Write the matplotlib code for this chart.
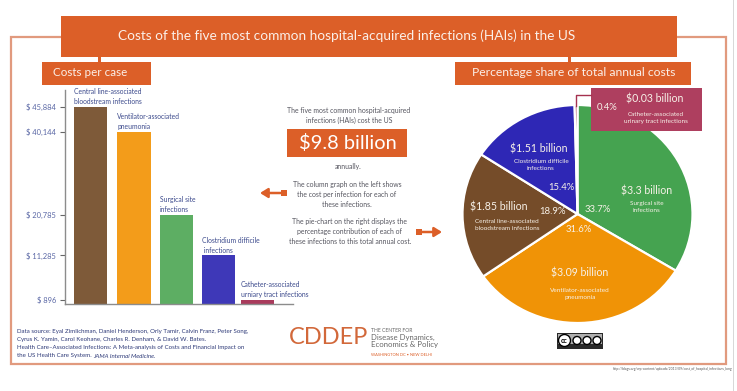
import matplotlib
matplotlib.use("Agg")
import matplotlib.pyplot as plt
from matplotlib.patches import Rectangle

plt.rcParams['font.family'] = ['Lato', 'DejaVu Sans']

# ---- data ----
bar_names = ["Central line-associated\nbloodstream infections", "Ventilator-associated\npneumonia",
             "Surgical site\ninfections", "Clostridium difficile\n infections",
             "Catheter-associated\nurniary tract infections"]
bar_costs = [45884, 40144, 20785, 11285, 896]
bar_ticklabels = ["$ 45,884", "$ 40,144", "$ 20,785", "$ 11,285", "$ 896"]
bar_centers = [90.7, 134.2, 176.7, 218.5, 257.7]
bar_colors = ["#7E5A39", "#F39C1A", "#5DAE63", "#3E38B8", "#A93B5C"]

pie_pct = [33.7, 31.6, 18.9, 15.4, 0.4]
pie_colors = ["#45A350", "#F09306", "#754C29", "#2E27B5", "#A5324F"]

ORANGE = "#DC5F28"
BORDER = "#E19A7E"
W, H = 737, 391

fig = plt.figure(figsize=(W / 100, H / 100), dpi=100, facecolor="white")

bg = fig.add_axes([0, 0, 1, 1], zorder=0)
bg.set_xlim(0, W); bg.set_ylim(H, 0); bg.axis("off")

def box(x0, y0, x1, y1, color, **kw):
    bg.add_patch(Rectangle((x0, y0), x1 - x0, y1 - y0, facecolor=color, edgecolor="none", **kw))

# frame and right page edge
bg.add_patch(Rectangle((11, 36.5), 715, 327.5, fill=False, edgecolor=BORDER, lw=1.6))
box(733, 0, 734, H, "#D8D8D8")
box(61, 16, 677, 57, ORANGE)
box(98, 57, 101, 62, ORANGE)
box(568, 57, 571, 62, ORANGE)
box(42, 61.5, 151, 84.5, ORANGE)
box(455, 61.5, 691, 84.5, ORANGE)
box(287, 129, 407, 157, ORANGE)

bg.text(347, 35.5, "Costs of the five most common hospital-acquired infections (HAIs) in the US",
        color="#FBEFE8", fontsize=9.85, ha="center", va="center")
bg.text(90, 73, "Costs per case", color="#FBEFE8", fontsize=8.4, ha="center", va="center")
bg.text(574, 73, "Percentage share of total annual costs", color="#FBEFE8", fontsize=8.7, ha="center", va="center")
bg.text(347.5, 143, "$9.8 billion", color="white", fontsize=14.4, ha="center", va="center")

dark = "#55555F"
body = 4.95
bg.text(349, 115.5, "The five most common hospital-acquired\ninfections (HAIs) cost the US",
        color=dark, fontsize=body, ha="center", va="center", linespacing=1.55)
bg.text(348.5, 166, "annually.", color=dark, fontsize=body, ha="center", va="center")
bg.text(347, 194.5, "The column graph on the left shows\nthe cost per infection for each of\nthese infections.",
        color=dark, fontsize=body, ha="center", va="center", linespacing=1.55)
bg.text(350, 231.5, "The pie-chart on the right displays the\npercentage contribution of each of\nthese infections to this total annual cost.",
        color=dark, fontsize=body, ha="center", va="center", linespacing=1.55)

# arrows
for x0, x1, y in [(284, 260, 193), (419, 442, 232)]:
    bg.annotate("", xy=(x1, y), xytext=(x0, y),
                arrowprops=dict(arrowstyle="-|>,head_length=0.45,head_width=0.28", color=ORANGE, lw=1.8,
                                shrinkA=0, shrinkB=0))
    bg.plot([x0], [y], marker="s", ms=4.5, color=ORANGE, mew=0)

# footer
navy = "#2E3A78"
foot = 4.38
for y, line in [(331, "Data source: Eyal Zimlichman, Daniel Henderson, Orly Tamir, Calvin Franz, Peter Song,"),
                (339.5, "Cyrus K. Yamin, Carol Keohane, Charles R. Denham, & David W. Bates."),
                (347.5, "Health Care\u2013Associated Infections: A Meta-analysis of Costs and Financial Impact on")]:
    bg.text(17, y, line, color=navy, fontsize=foot, ha="left", va="center")
bg.text(17, 356, "the US Health Care System.", color=navy, fontsize=foot, ha="left", va="center")
bg.text(93.5, 356, "JAMA Internal Medicine.", color=navy, fontsize=foot, style="italic", ha="left", va="center")
bg.text(289, 337.5, "CDDEP", color="#D2683A", fontsize=17, ha="left", va="center")
bg.text(371, 330, "THE CENTER FOR", color="#666666", fontsize=3.6, ha="left", va="center")
bg.text(371, 341, "Disease Dynamics,\nEconomics & Policy", color="#666666", fontsize=5.6, ha="left", va="center", linespacing=1.0)
bg.text(371, 354.5, "WASHINGTON DC \u2022 NEW DELHI", color=ORANGE, fontsize=2.9, ha="left", va="center")
bg.text(613, 369, "http://blogs.org/wp-content/uploads/2013/09/cost_of_hospital_infections_long",
        color="#555555", fontsize=2.45, ha="left", va="center")

# cc badge
box(557, 333, 603.5, 349, "#2A2A2A")
box(558, 334, 602.5, 344, "#AFAFAF")
for cx, r, lab in [(564.5, 6, "cc"), (577, 4, ""), (587, 4, ""), (597, 4, "")]:
    bg.add_patch(plt.Circle((cx, 340.5), r, facecolor="white", edgecolor="black", lw=1.0, zorder=3))
    bg.text(cx, 340.5, lab, fontsize=5, fontweight="bold", ha="center", va="center", zorder=4)

# ---- bar chart ----
ax_left, ax_right, ax_top, ax_base = 64.5, 293, 90, 303.6
ax = fig.add_axes([ax_left / W, 1 - ax_base / H, (ax_right - ax_left) / W, (ax_base - ax_top) / H], zorder=1)
ax.patch.set_alpha(0)
per_px = 45884 / (303.6 - 107)
ax.set_xlim(ax_left, ax_right)
ax.set_ylim(0, (ax_base - ax_top) * per_px)
ax.bar(bar_centers, bar_costs, width=33.5, color=bar_colors)
ax.set_xticks([])
ax.set_yticks(bar_costs, bar_ticklabels)
ax.tick_params(axis="y", length=3.5, width=0.8, color="#666666", labelcolor="#5A67A5", labelsize=5.4, pad=2.5)
for s in ("top", "right"):
    ax.spines[s].set_visible(False)
for s in ("left", "bottom"):
    ax.spines[s].set_color("#8C8C8C")
    ax.spines[s].set_linewidth(1.0)
for cx, val, name in zip(bar_centers, bar_costs, bar_names):
    ax.annotate(name, xy=(cx - 17, val), xytext=(0, 1.2), textcoords="offset points",
                color="#3C4A8C", fontsize=4.9, ha="left", va="bottom", linespacing=1.5, annotation_clip=False)

# ---- pie chart ----
cx, cy, rx, ry = 577.5, 214, 115, 109
pa = fig.add_axes([(cx - rx) / W, 1 - (cy + ry) / H, 2 * rx / W, 2 * ry / H], zorder=1)
pa.pie(pie_pct, colors=pie_colors, startangle=90, counterclock=False, radius=1,
       wedgeprops=dict(edgecolor="white", linewidth=1.6))
pa.set_aspect("auto")
pa.set_xlim(-1, 1); pa.set_ylim(-1, 1)
pa.patch.set_alpha(0)

top = fig.add_axes([0, 0, 1, 1], zorder=2)
top.set_xlim(0, W); top.set_ylim(H, 0); top.axis("off")
top.add_patch(Rectangle((591, 87.5), 111, 43.5, facecolor="#AE3F5F", edgecolor="none"))
top.plot([576, 576, 591], [106, 95, 95], color="#A5324F", lw=1.0)

lt = "#F7F1E8"
big, pc, small = 7.6, 6.8, 4.55
def t(x, y, s, fs, **kw):
    top.text(x, y, s, color=lt, fontsize=fs, va="center", ha="center", linespacing=1.5)

t(655, 98.5, "$0.03 billion", big)
t(607, 107.5, "0.4%", pc)
t(656, 118.5, "Catheter-associated\nurinary tract infections", small)
t(539, 149.5, "$1.51 billion", big)
t(541, 165, "Clostridium difficile\ninfections", small)
t(561, 188, "15.4%", pc)
t(647, 190.5, "$3.3 billion", big)
t(646.5, 206.5, "Surgical site\ninfections", small)
t(597.5, 210, "33.7%", pc)
t(499, 207, "$1.85 billion", big)
t(507, 225, "Central line-associated\nbloodstream infections", small)
t(552.7, 212, "18.9%", pc)
t(579, 229, "31.6%", pc)
t(580, 273.5, "$3.09 billion", big)
t(580, 293.5, "Ventilator-associated\npneumonia", small)

fig.savefig("out.png", dpi=100)
